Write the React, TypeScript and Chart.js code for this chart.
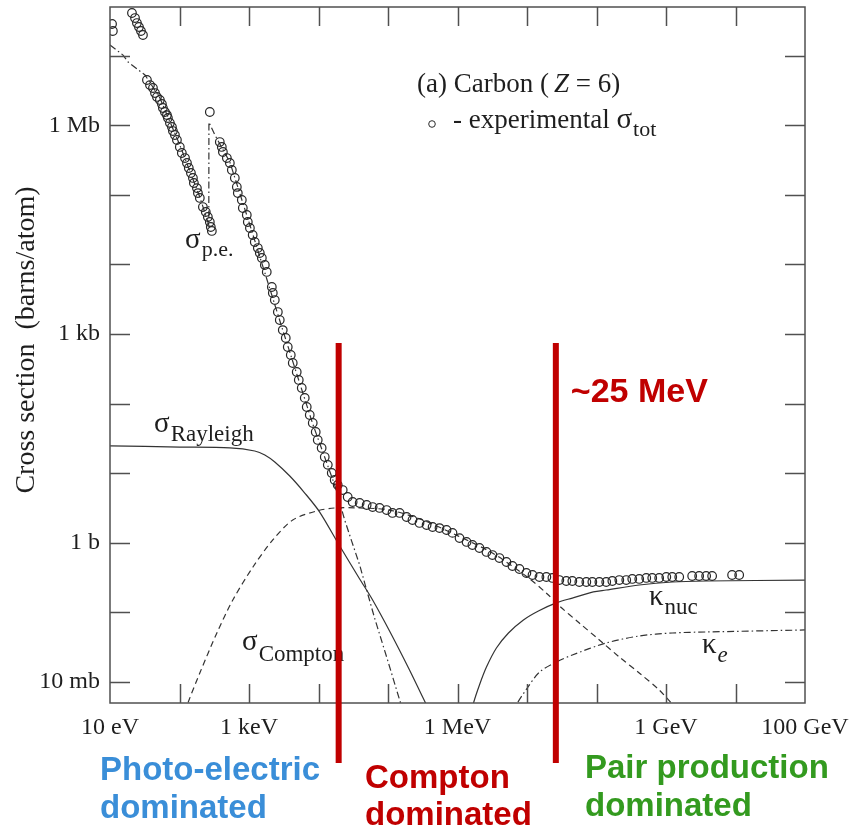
import React, { useEffect, useRef } from "react";
import { Chart, registerables } from "chart.js";

Chart.register(...registerables);

// ---------------- data (energy in eV, cross section in barns/atom) ----------------
const totEnergy = [
  10.7, 11.0, 20.7, 22.9, 24.4, 26.1, 27.9, 29.8,
  34.0, 37.6, 41.5, 44.4, 47.4, 52.2, 55.8, 57.7, 61.7, 65.9, 68.1, 72.8, 77.8, 80.4, 85.9, 91.8,
  101, 108, 120, 128, 136, 146, 156, 161, 178, 184, 196, 217, 239, 256, 273, 282, 292,
  273,
  380, 406, 421, 480, 530, 566, 625, 668, 690, 788, 815, 929, 961, 1030, 1130, 1210, 1340, 1430,
  1530, 1690, 1800, 2130, 2200, 2350, 2600, 2770, 3060, 3380, 3610, 3990, 4260, 4860, 5200, 5740,
  6340, 6770, 7480, 8260, 9120, 9750, 11100, 12300, 13600, 15500, 17100, 18900, 22300, 26300,
  31000, 39100, 49300, 60100, 75700, 95500, 116000, 147000, 185000, 225000, 284000, 359000,
  438000, 551000, 695000, 847000, 1.07e6, 1.35e6, 1.64e6, 2.07e6, 2.61e6, 3.18e6, 4.01e6, 5.06e6,
  6.17e6, 7.78e6, 9.8e6, 1.2e7, 1.51e7, 1.9e7, 2.32e7, 2.92e7, 3.68e7, 4.49e7, 5.66e7, 7.14e7,
  8.71e7, 1.1e8, 1.38e8, 1.69e8, 2.13e8, 2.68e8, 3.27e8, 4.12e8, 5.2e8, 6.34e8, 7.98e8, 1.01e9,
  1.23e9, 1.55e9, 2.38e9, 3.0e9, 3.78e9, 4.61e9, 8.93e9, 1.13e10,
];
const totSigma = [
  2.85e7, 2.26e7, 4.1e7, 3.47e7, 2.94e7, 2.58e7, 2.26e7, 1.98e7,
  4.47e6, 3.78e6, 3.43e6, 2.9e6, 2.55e6, 2.31e6, 2.02e6, 1.77e6, 1.55e6, 1.4e6, 1.27e6, 1.08e6, 9.44e5, 8.26e5, 7.24e5, 6.14e5,
  4.88e5, 3.99e5, 3.38e5, 2.87e5, 2.43e5, 2.06e5, 1.75e5, 1.48e5, 1.25e5, 1.06e5, 9.02e4, 6.68e4, 5.67e4, 4.81e4, 4.07e4, 3.45e4, 3.03e4,
  1.55e6,
  5.74e5, 4.88e5, 4.13e5, 3.38e5, 2.87e5, 2.28e5, 1.75e5, 1.3e5, 1.06e5, 8.43e4, 6.47e4, 5.13e4, 4.07e4, 3.34e4, 2.65e4, 2.1e4, 1.72e4, 1.46e4,
  1.24e4, 9820, 7800, 4740, 3890, 3080, 2070, 1590, 1140, 877, 652, 500, 384, 285, 219, 168,
  121, 89.5, 68.7, 52.7, 39.2, 30.1, 23.1, 17.1, 13.2, 10.1, 8.0, 6.78, 5.74, 4.56,
  3.86, 3.74, 3.5, 3.27, 3.17, 2.96, 2.69, 2.69, 2.35, 2.13, 1.93, 1.8,
  1.69, 1.63, 1.53, 1.39, 1.17, 1.03, 0.931, 0.843, 0.74, 0.668, 0.605, 0.531,
  0.465, 0.421, 0.369, 0.345, 0.323, 0.323, 0.313, 0.292, 0.283, 0.283, 0.274, 0.274,
  0.274, 0.274, 0.274, 0.283, 0.292, 0.292, 0.303, 0.303, 0.313, 0.313, 0.313, 0.323,
  0.323, 0.323, 0.334, 0.334, 0.334, 0.334, 0.345, 0.345,
];

const peEnergy = [10, 15.4, 18.2, 31.9, 52.2, 101, 196, 264, 265, 323, 530, 1030, 3060, 8260, 17100, 23800, 30000, 39100, 49300, 64100, 98600, 147000, 173000];
const peSigma = [1.42e7, 1.02e7, 8.11e6, 5.27e6, 2.47e6, 5.2e5, 9.31e4, 3.69e4, 1.11e6, 7.24e5, 2.96e5, 3.69e4, 1140, 51.1, 6.78, 2.13, 1.06, 0.481, 0.21, 0.0832, 0.0207, 0.00552, 0.00336];

const rayEnergy = [10, 101, 530, 1210, 1690, 2350, 3860, 6340, 10400, 20200, 39100, 60100, 109000, 204000, 347000, 468000];
const raySigma = [24.7, 23.8, 23.1, 20.9, 18.3, 14.5, 9.12, 5.2, 2.77, 0.9, 0.303, 0.151, 0.0507, 0.0149, 0.005, 0.00285];

const comptonEnergy = [120, 132, 196, 345, 585, 1140, 2200, 4260, 9420, 17100, 39100, 105000, 314000, 1.03e6, 3.18e6, 1.01e7, 1.96e7, 2.92e7, 5.66e7, 1.1e8, 2.13e8, 4.12e8, 7.98e8, 1.19e9, 1.55e9];
const comptonSigma = [0.00372, 0.005, 0.0135, 0.0507, 0.151, 0.45, 1.1, 2.13, 2.87, 3.17, 3.17, 2.96, 2.13, 1.25, 0.714, 0.323, 0.184, 0.124, 0.0705, 0.0402, 0.0229, 0.0135, 0.00769, 0.005, 0.00372];

const nucEnergy = [1.49e6, 1.7e6, 2.07e6, 2.61e6, 3.63e6, 5.41e6, 8.88e6, 1.46e7, 2.64e7, 4.49e7, 9.0e7, 1.38e8, 4.12e8, 1.23e9, 3.78e9, 1e11];
const nucSigma = [0.00285, 0.005, 0.00908, 0.0164, 0.0308, 0.0507, 0.078, 0.105, 0.137, 0.161, 0.197, 0.21, 0.248, 0.274, 0.283, 0.292];

const elecEnergy = [5.97e6, 7.28e6, 1.01e7, 1.51e7, 2.64e7, 4.49e7, 1.38e8, 4.12e8, 1.23e9, 3.78e9, 1e11];
const elecSigma = [0.00336, 0.005, 0.00822, 0.0139, 0.0194, 0.0245, 0.0364, 0.0459, 0.0507, 0.0524, 0.056];

const xTickValues = [1e1, 1e2, 1e3, 1e4, 1e5, 1e6, 1e7, 1e8, 1e9, 1e10, 1e11];
const xLabelValues = [1e1, 1e3, 1e6, 1e9, 1e11];
const xLabelTexts = ["10 eV", "1 keV", "1 MeV", "1 GeV", "100 GeV"];
const yTickValues = [1e-2, 1e-1, 1, 1e1, 1e2, 1e3, 1e4, 1e5, 1e6, 1e7];
const yLabelValues = [1e-2, 1, 1e3, 1e6];
const yLabelTexts = ["10 mb", "1 b", "1 kb", "1 Mb"];

const regionBoundaries = [1.95e4, 2.6e7];

// ---------------- styling ----------------
const SERIF = '"Liberation Serif", "Times New Roman", serif';
const SANS = '"Liberation Sans", Arial, sans-serif';
const INK = "#1e1e1e";
const LINE = "#333333";
const RED = "#c00000";
const BLUE = "#3a8ed8";
const GREEN = "#339a1f";

const pts = (xs: number[], ys: number[]) => xs.map((x, i) => ({ x, y: ys[i] }));
const findLabel = (v: number, vals: number[], texts: string[]) => {
  const i = vals.findIndex((t) => Math.abs(Math.log10(t) - Math.log10(v)) < 1e-6);
  return i >= 0 ? texts[i] : "";
};

function symLabel(ctx: CanvasRenderingContext2D, x: number, y: number, main: string, sub: string, mainSize: number, subSize: number, subDy: number, subItalic = false) {
  ctx.font = `${mainSize}px ${SERIF}`;
  ctx.fillText(main, x, y);
  const w = ctx.measureText(main).width;
  ctx.font = `${subItalic ? "italic " : ""}${subSize}px ${SERIF}`;
  ctx.fillText(sub, x + w + 1, y + subDy);
}

const overlayPlugin = {
  id: "overlay",
  afterDraw(chart: any) {
    const { ctx, chartArea, scales } = chart;
    const { left, right, top, bottom } = chartArea;
    const xs = scales.x;
    const ys = scales.y;
    ctx.save();
    // frame
    ctx.strokeStyle = "#505050";
    ctx.lineWidth = 1.5;
    ctx.strokeRect(left, top, right - left, bottom - top);
    // inward ticks
    ctx.beginPath();
    xTickValues.forEach((v) => {
      const px = Math.round(xs.getPixelForValue(v)) + 0.5;
      if (px <= left + 2 || px >= right - 2) return;
      ctx.moveTo(px, bottom);
      ctx.lineTo(px, bottom - 19);
      ctx.moveTo(px, top);
      ctx.lineTo(px, top + 19);
    });
    yTickValues.forEach((v) => {
      const py = Math.round(ys.getPixelForValue(v)) + 0.5;
      if (py <= top + 2 || py >= bottom - 2) return;
      ctx.moveTo(left, py);
      ctx.lineTo(left + 20, py);
      ctx.moveTo(right, py);
      ctx.lineTo(right - 20, py);
    });
    ctx.stroke();

    // y axis title
    ctx.fillStyle = INK;
    ctx.save();
    ctx.translate(27, 340);
    ctx.rotate(-Math.PI / 2);
    ctx.font = `28px ${SERIF}`;
    ctx.textAlign = "center";
    ctx.textBaseline = "middle";
    ctx.fillText("Cross section  (barns/atom)", 0, 0);
    ctx.restore();

    // legend block
    ctx.textAlign = "left";
    ctx.textBaseline = "alphabetic";
    ctx.font = `27px ${SERIF}`;
    let tx = 417;
    const part1 = "(a) Carbon (";
    ctx.fillText(part1, tx, 92);
    tx += ctx.measureText(part1).width + 5;
    ctx.font = `italic 27px ${SERIF}`;
    ctx.fillText("Z", tx, 92);
    tx += ctx.measureText("Z").width;
    ctx.font = `27px ${SERIF}`;
    ctx.fillText(" = 6)", tx, 92);

    ctx.strokeStyle = "#2a2a2a";
    ctx.lineWidth = 1;
    ctx.beginPath();
    ctx.arc(432, 124, 3.3, 0, Math.PI * 2);
    ctx.stroke();
    ctx.font = `27px ${SERIF}`;
    const leg = "- experimental ";
    ctx.fillText(leg, 453, 128);
    const lw = ctx.measureText(leg).width;
    symLabel(ctx, 453 + lw, 128, "σ", "tot", 29, 22, 8);

    // curve annotations
    symLabel(ctx, 185, 248, "σ", "p.e.", 29, 22, 8);
    symLabel(ctx, 154, 432, "σ", "Rayleigh", 29, 23, 9);
    symLabel(ctx, 242, 650, "σ", "Compton", 29, 23, 11);
    symLabel(ctx, 649, 605, "κ", "nuc", 29, 23, 9);
    symLabel(ctx, 702, 653, "κ", "e", 29, 23, 9, true);

    // red region boundaries
    ctx.strokeStyle = RED;
    ctx.lineWidth = 6;
    ctx.beginPath();
    regionBoundaries.forEach((e) => {
      const px = xs.getPixelForValue(e);
      ctx.moveTo(px, 343);
      ctx.lineTo(px, 763);
    });
    ctx.stroke();

    const bx = xs.getPixelForValue(regionBoundaries[1]);
    ctx.fillStyle = RED;
    ctx.font = `bold 34px ${SANS}`;
    ctx.fillText("~25 MeV", bx + 15, 402);

    ctx.font = `bold 33px ${SANS}`;
    ctx.fillStyle = BLUE;
    ctx.fillText("Photo-electric", 100, 780);
    ctx.fillText("dominated", 100, 818);
    ctx.fillStyle = RED;
    ctx.fillText("Compton", 365, 788);
    ctx.fillText("dominated", 365, 825);
    ctx.fillStyle = GREEN;
    ctx.fillText("Pair production", 585, 778);
    ctx.fillText("dominated", 585, 816);
    ctx.restore();
  },
};

export default function App() {
  const canvasRef = useRef<HTMLCanvasElement | null>(null);

  useEffect(() => {
    if (!canvasRef.current) return;
    const curve = (data: any, dash: number[], tension = 0.3) => ({
      data,
      showLine: true,
      pointRadius: 0,
      borderColor: LINE,
      borderWidth: 1.2,
      borderDash: dash,
      tension,
      fill: false,
    });
    const chart = new Chart(canvasRef.current, {
      type: "scatter",
      data: {
        datasets: [
          {
            label: "experimental",
            data: pts(totEnergy, totSigma),
            showLine: false,
            pointRadius: 4.3,
            pointBorderWidth: 1.2,
            pointBorderColor: "#262626",
            pointBackgroundColor: "rgba(0,0,0,0)",
          } as any,
          curve(pts(peEnergy, peSigma), [7, 3, 1.5, 3], 0),
          curve(pts(rayEnergy, raySigma), [], 0.3),
          curve(pts(comptonEnergy, comptonSigma), [6, 4], 0.3),
          curve(pts(nucEnergy, nucSigma), [], 0.3),
          curve(pts(elecEnergy, elecSigma), [7, 3, 1.5, 3], 0.3),
        ],
      },
      options: {
        animation: false,
        responsive: false,
        devicePixelRatio: 1,
        layout: { padding: { top: 7, right: 54, bottom: 0, left: 0 } },
        plugins: { legend: { display: false }, tooltip: { enabled: false } },
        scales: {
          x: {
            type: "logarithmic",
            position: "bottom",
            min: 10,
            max: 1e11,
            bounds: "data",
            grid: { display: false, drawTicks: false },
            border: { display: false },
            afterBuildTicks: (s: any) => {
              s.ticks = xTickValues.map((v) => ({ value: v }));
            },
            afterFit: (s: any) => {
              s.height = 125;
              s.paddingLeft = 0;
              s.paddingRight = 0;
            },
            ticks: {
              autoSkip: false,
              maxRotation: 0,
              minRotation: 0,
              padding: 10,
              color: INK,
              font: { family: SERIF, size: 24 },
              callback: (v: any) => findLabel(Number(v), xLabelValues, xLabelTexts),
            },
          },
          y: {
            type: "logarithmic",
            position: "left",
            min: 5e-3,
            max: 5e7,
            bounds: "data",
            grid: { display: false, drawTicks: false },
            border: { display: false },
            afterBuildTicks: (s: any) => {
              s.ticks = yTickValues.map((v) => ({ value: v }));
            },
            afterFit: (s: any) => {
              s.width = 110;
              s.paddingTop = 0;
              s.paddingBottom = 0;
            },
            ticks: {
              autoSkip: false,
              padding: 10,
              color: INK,
              font: { family: SERIF, size: 24 },
              callback: (v: any) => findLabel(Number(v), yLabelValues, yLabelTexts),
            },
          },
        },
      } as any,
      plugins: [overlayPlugin],
    });
    return () => chart.destroy();
  }, []);

  return (
    <div style={{ position: "absolute", left: 0, top: 0, width: 859, height: 828, background: "#fff" }}>
      <canvas ref={canvasRef} width={859} height={828} style={{ display: "block" }} />
    </div>
  );
}
